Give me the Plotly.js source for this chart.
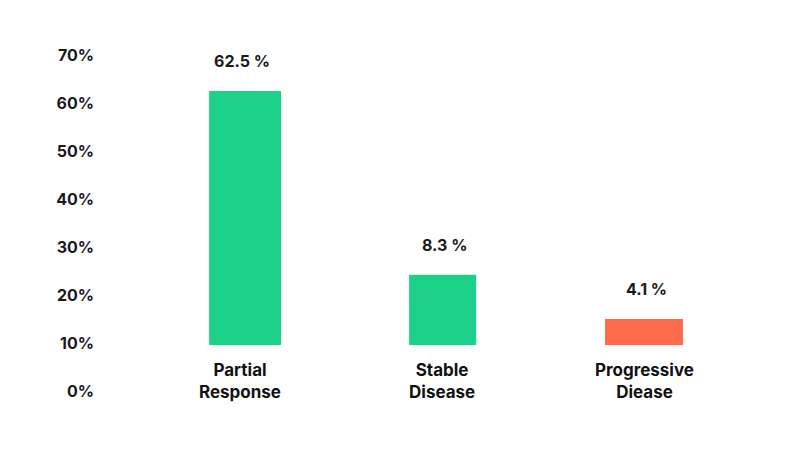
<!DOCTYPE html>
<html><head><meta charset="utf-8">
<script src="https://cdn.plot.ly/plotly-3.0.1.min.js"></script>
<style>html,body{margin:0;padding:0;background:#fff}#chart{width:800px;height:450px}</style>
</head><body><div id="chart"></div>
<script>
const categories = ['Partial<br>Response', 'Stable<br>Disease', 'Progressive<br>Diease'];
const barTops = [62.5, 24.2, 15.0];
const barBase = 9.6;
const valueLabels = ['62.5 %', '8.3 %', '4.1 %'];
const barColors = ['#1ED18A', '#1ED18A', '#FF6B4A'];
const tickValues = [0, 10, 20, 30, 40, 50, 60, 70];
const tickLabels = ['0%', '10%', '20%', '30%', '40%', '50%', '60%', '70%'];

const font = "Inter, 'Noto Sans', sans-serif";
const trace = {
  type: 'bar',
  x: categories,
  y: barTops.map(v => v - barBase),
  base: barBase,
  width: [0.356, 0.332, 0.386],
  offset: [-0.153, -0.163, -0.193],
  marker: {color: barColors},
  hoverinfo: 'skip'
};
const annotations = [];
categories.forEach((c, i) => {
  annotations.push({x: c, y: barTops[i], xref: 'x', yref: 'y', text: valueLabels[i],
    showarrow: false, yanchor: 'bottom', yshift: 18, xshift: 2,
    font: {family: font, size: 16, color: '#1a1a1a', weight: 700}});
  annotations.push({x: c, y: 2, xref: 'x', yref: 'y', text: c,
    showarrow: false, yanchor: 'middle',
    font: {family: font, size: 17, color: '#111', weight: 700}});
});
const layout = {
  width: 800, height: 450,
  margin: {l: 139, r: 55, t: 55, b: 59},
  paper_bgcolor: '#fff', plot_bgcolor: '#fff',
  showlegend: false,
  xaxis: {showticklabels: false, showgrid: false, zeroline: false, showline: false, range: [-0.5, 2.5], fixedrange: true},
  yaxis: {range: [0, 70], tickmode: 'array', tickvals: tickValues, ticktext: tickLabels, showgrid: false, zeroline: false, showline: false,
    ticks: '', ticklabelstandoff: 44,
    tickfont: {family: font, size: 16, color: '#1a1a1a', weight: 700}},
  annotations: annotations
};
Plotly.newPlot('chart', [trace], layout, {displayModeBar: false, staticPlot: true});
</script></body></html>
